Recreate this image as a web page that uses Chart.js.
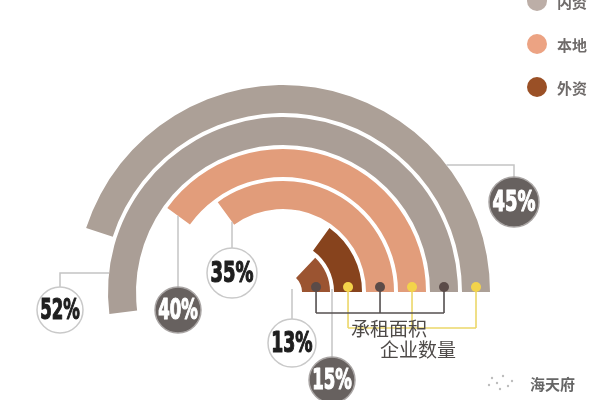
<!DOCTYPE html>
<html>
<head>
<meta charset="utf-8">
<script src="https://cdn.jsdelivr.net/npm/chart.js@4/dist/chart.umd.min.js"></script>
<style>
  html, body { margin: 0; padding: 0; background: #fff; }
  #wrap { position: relative; width: 600px; height: 400px; overflow: hidden; }
</style>
</head>
<body>
<div id="wrap"><canvas id="chart" width="600" height="400"></canvas></div>
<script>
// rings, from the outside in
const groups = ['内资', '本地', '外资'];
const legendColors = ['#bcaea7', '#eca383', '#9a5026'];
const measures = ['承租面积', '企业数量'];
const ringValues = [45, 52, 40, 35, 15, 13];
const ringLabels = ['45%', '52%', '40%', '35%', '15%', '13%'];
const ringColors = ['#aca097', '#aa9e96', '#e29d7b', '#e19c7a', '#87431d', '#9b5431'];
const ringMeasure = [0, 1, 0, 1, 0, 1];

// badge layout (annotation positions, not data)
const badges = [
  { ring: 0, x: 514, y: 202, r: 25, dark: true,  route: 'hv', lineY: 165 },
  { ring: 1, x: 60,  y: 310, r: 23, dark: false, route: 'hv', lineY: 273 },
  { ring: 2, x: 178, y: 310, r: 23, dark: true,  route: 'end' },
  { ring: 3, x: 232, y: 273, r: 25, dark: false, route: 'end' },
  { ring: 4, x: 332, y: 380, r: 23, dark: true,  route: 'start' },
  { ring: 5, x: 292, y: 343, r: 24, dark: false, route: 'start' },
];
const measureStyle = [
  { color: '#ecd76a', lineY: 328, dot: '#f3d34a', tx: 389, ty: 329 },
  { color: '#555050', lineY: 313, dot: '#5b4b48', tx: 418, ty: 350 },
];

const CLEAR = 'rgba(0,0,0,0)';
const datasets = [];
ringValues.forEach((v, i) => {
  if (i > 0) {
    datasets.push({ data: [100], backgroundColor: [CLEAR], weight: 1, clip: false });
  }
  datasets.push({
    label: ringLabels[i],
    data: [100 - v, v],
    backgroundColor: [CLEAR, ringColors[i]],
    weight: 7,
    clip: false,
  });
});

function drawBadge(ctx, b, text) {
  ctx.beginPath();
  ctx.arc(b.x, b.y, b.r, 0, Math.PI * 2);
  ctx.fillStyle = b.dark ? '#67615f' : '#ffffff';
  ctx.fill();
  ctx.lineWidth = 1.5;
  ctx.strokeStyle = b.dark ? '#a9a5a4' : '#c9c9c9';
  ctx.stroke();

  ctx.font = 'bold 29px "DejaVu Sans Condensed", "DejaVu Sans", sans-serif';
  const w = ctx.measureText(text).width;
  const target = b.r * 1.72;
  const sx = Math.min(1, target / w);
  const col = b.dark ? '#ffffff' : '#1e1e1e';
  ctx.save();
  ctx.translate(b.x, b.y + 1.5);
  ctx.scale(sx, 1);
  ctx.fillStyle = col;
  ctx.strokeStyle = col;
  ctx.lineWidth = 1.2;
  ctx.lineJoin = 'round';
  ctx.textAlign = 'center';
  ctx.textBaseline = 'middle';
  ctx.strokeText(text, 0, 0);
  ctx.fillText(text, 0, 0);
  ctx.restore();
}

const annotations = {
  id: 'annotations',
  afterDatasetsDraw(chart) {
    const ctx = chart.ctx;
    const arcs = ringValues.map((_, i) => chart.getDatasetMeta(i * 2).data[1]);
    ctx.save();

    // leader lines from ring ends to badges
    ctx.strokeStyle = '#c4c4c4';
    ctx.lineWidth = 1.5;
    badges.forEach(b => {
      const arc = arcs[b.ring];
      let pts;
      if (b.route === 'hv') {
        const dy = arc.y - b.lineY;
        const dx = Math.sqrt(arc.outerRadius * arc.outerRadius - dy * dy);
        const sx = b.x > arc.x ? arc.x + dx : arc.x - dx;
        pts = [[sx, b.lineY], [b.x, b.lineY], [b.x, b.y - b.r]];
      } else if (b.route === 'end') {
        const a = arc.startAngle;
        const rr = (b.x - arc.x) / Math.cos(a);
        pts = [[b.x, arc.y + rr * Math.sin(a)], [b.x, b.y - b.r]];
      } else {
        pts = [[b.x, arc.y - 3], [b.x, b.y - b.r]];
      }
      ctx.beginPath();
      ctx.moveTo(pts[0][0], pts[0][1]);
      pts.slice(1).forEach(p => ctx.lineTo(p[0], p[1]));
      ctx.stroke();
    });

    // measure brackets under the ring ends
    measureStyle.forEach((m, k) => {
      const xs = [];
      arcs.forEach((arc, i) => {
        if (ringMeasure[i] !== k) return;
        xs.push(arc.x + (arc.innerRadius + arc.outerRadius) / 2);
      });
      const y0 = arcs[0].y - 5;
      ctx.strokeStyle = m.color;
      ctx.lineWidth = 1.6;
      ctx.beginPath();
      xs.forEach(x => { ctx.moveTo(x, y0); ctx.lineTo(x, m.lineY); });
      ctx.moveTo(Math.min(...xs), m.lineY);
      ctx.lineTo(Math.max(...xs), m.lineY);
      ctx.stroke();
      xs.forEach(x => {
        ctx.beginPath();
        ctx.arc(x, y0, 5, 0, Math.PI * 2);
        ctx.fillStyle = m.dot;
        ctx.fill();
      });
    });
    ctx.font = '19px "Noto Sans CJK SC", sans-serif';
    ctx.fillStyle = '#4e4a48';
    ctx.textAlign = 'center';
    ctx.textBaseline = 'middle';
    measureStyle.forEach((m, k) => ctx.fillText(measures[k], m.tx, m.ty));

    badges.forEach(b => drawBadge(ctx, b, ringLabels[b.ring]));

    // legend, top right
    groups.forEach((g, i) => {
      const y = 1 + i * 43;
      ctx.beginPath();
      ctx.arc(537, y, 10, 0, Math.PI * 2);
      ctx.fillStyle = legendColors[i];
      ctx.fill();
      ctx.font = 'bold 15px "Noto Sans CJK SC", sans-serif';
      ctx.fillStyle = '#6f6b6a';
      ctx.textAlign = 'left';
      ctx.fillText(g, 557, y + 1);
    });

    // watermark
    ctx.fillStyle = '#bdbdbd';
    [[492, 378], [497, 383], [503, 376], [508, 386], [500, 389], [512, 381], [489, 385]].forEach(p => {
      ctx.beginPath();
      ctx.arc(p[0], p[1], 1.2, 0, Math.PI * 2);
      ctx.fill();
    });
    ctx.font = 'bold 15px "Noto Sans CJK SC", sans-serif';
    ctx.fillStyle = '#666666';
    ctx.fillText('海天府', 530, 384);

    ctx.restore();
  }
};

new Chart(document.getElementById('chart'), {
  type: 'doughnut',
  data: { labels: ['', ''], datasets },
  options: {
    responsive: false,
    animation: false,
    events: [],
    rotation: 90,
    circumference: 360,
    radius: 207,
    cutout: '9.2%',
    layout: { padding: { left: 0, right: 34, top: 184, bottom: 0 } },
    elements: { arc: { borderWidth: 0 } },
    plugins: { legend: { display: false }, tooltip: { enabled: false } },
  },
  plugins: [annotations],
});
</script>
</body>
</html>
